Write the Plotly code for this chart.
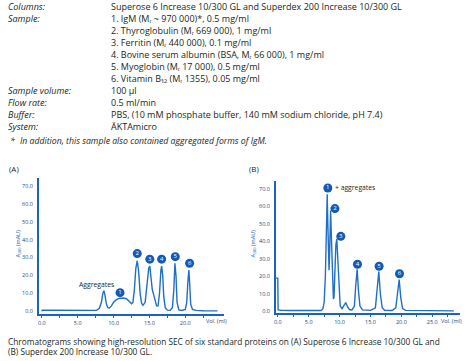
import plotly.graph_objects as go

W, H = 467, 361

# ---------------- data ----------------
a_vol = [0.0, 0.05, 1, 3, 5, 7, 7.6, 8.0, 8.3, 8.5, 8.65, 8.8, 9.0, 9.2, 9.4, 9.7, 10.0, 10.4, 10.8, 11.3,
         11.8, 12.2, 12.5, 12.7, 12.9, 13.1, 13.3, 13.5, 13.7, 13.9, 14.1, 14.4, 14.7, 14.9, 15.05, 15.2,
         15.4, 15.6, 15.8, 16.0, 16.2, 16.4, 16.6, 16.7, 16.85, 17.0, 17.2, 17.5, 17.9, 18.2, 18.4, 18.55,
         18.7, 18.85, 19.1, 19.5, 20.0, 20.2, 20.35, 20.5, 20.6, 20.75, 21.0, 21.5, 22.5, 24.5]
a_abs = [0, 0.6, 0.6, 0.5, 0.4, 0.3, 0.5, 1.5, 5, 10, 11.5, 9, 4, 2, 1.8, 3, 5, 6.5, 7.2, 7.4,
         7.0, 5.5, 4.2, 5, 12, 24, 28.2, 22, 10, 4.5, 3.3, 5, 16, 24, 25.2, 20,
         12, 9, 6, 3, 3, 10, 23, 25.2, 20, 8, 2, 0.6, 0.5, 2, 12, 26.8,
         20, 5, 0.8, 0.4, 1, 5, 16, 23, 16, 4, 1, 0.5, 0.3, 0.2]

b_vol = [-0.3, 0.0, 0.05, 0.5, 2, 4, 6, 7.0, 7.3, 7.5, 7.7, 7.85, 8.0, 8.1, 8.2, 8.3, 8.4, 8.55, 8.7,
         8.85, 9.0, 9.1, 9.25, 9.4, 9.55, 9.7, 9.9, 10.1, 10.4, 10.7, 11.0, 11.3, 11.6, 12.0, 12.4,
         12.6, 12.85, 13.05, 13.3, 13.7, 15.0, 15.8, 16.1, 16.35, 16.6, 16.9, 17.3, 18.5, 19.1, 19.45,
         19.65, 19.9, 20.2, 20.7, 24, 28.5]
b_abs = [19, 19, 0.8, 0.6, 0.4, 0.3, 0.2, 0.4, 1.5, 5, 20, 48, 67, 50, 30, 23.5, 35, 57.7, 40,
         15, 7, 8, 25, 38, 41.5, 30, 10, 3, 1.5, 3, 5, 2.5, 1, 0.8, 3,
         14, 24, 12, 3, 0.8, 0.5, 2, 12, 22.8, 10, 2, 0.6, 0.4, 2, 12,
         18.2, 8, 1.5, 0.5, 0.3, 0.2]

# circled peak numbers
a_lab_x = [10.9, 13.3, 15.05, 16.7, 18.6, 20.6]
a_lab_y = [10.4, 32.2, 29.1, 29.1, 30.5, 26.8]
b_lab_x = [8.1, 9.25, 10.2, 12.9, 16.4, 19.7]
b_lab_y = [70.6, 58.8, 42.9, 26.9, 25.8, 21.5]
peak_ids = ["1", "2", "3", "4", "5", "6"]

a_ticks = [0, 5, 10, 15, 20]
a_minor = [2.5, 7.5, 12.5, 17.5, 22.5]
b_ticks = [0, 5, 10, 15, 20, 25]
b_minor = [2.5, 7.5, 12.5, 17.5, 22.5, 27.5]
y_ticks = [0, 10, 20, 30, 40, 50, 60, 70]

header_labels = ["Columns:", "Sample:", "", "", "", "", "", "Sample volume:", "Flow rate:", "Buffer:", "System:"]
header_values = [
    "Superose 6 Increase 10/300 GL and Superdex 200 Increase 10/300 GL",
    "1. IgM (Mᵣ ~ 970 000)*, 0.5 mg/ml",
    "2. Thyroglobulin (Mᵣ 669 000), 1 mg/ml",
    "3. Ferritin (Mᵣ 440 000), 0.1 mg/ml",
    "4. Bovine serum albumin (BSA, Mᵣ 66 000), 1 mg/ml",
    "5. Myoglobin (Mᵣ 17 000), 0.5 mg/ml",
    "6. Vitamin B₁₂ (Mᵣ 1355), 0.05 mg/ml",
    "100 µl",
    "0.5 ml/min",
    "PBS, (10 mM phosphate buffer, 140 mM sodium chloride, pH 7.4)",
    "ÄKTAmicro",
]
header_y = [7, 19, 31, 43, 55, 67, 79, 91, 103, 115, 127]

# ---------------- styling ----------------
FONT = "Open Sans"
LINE = "#1f6fc6"
AXIS = "#1a63c0"
TICK = "#27467e"
DOT = "#0f5bb5"
TXT = "#231f20"


def px_x(p):
    return p / W


def px_y(p):
    return 1 - p / H


fig = go.Figure()

fig.add_trace(go.Scatter(x=a_vol, y=a_abs, mode="lines", line=dict(color=LINE, width=1.4),
                         xaxis="x", yaxis="y", hoverinfo="skip"))
fig.add_trace(go.Scatter(x=b_vol, y=b_abs, mode="lines", line=dict(color=LINE, width=1.4),
                         xaxis="x2", yaxis="y2", hoverinfo="skip"))
fig.add_trace(go.Scatter(x=a_lab_x, y=a_lab_y, mode="markers+text", text=peak_ids,
                         marker=dict(color=DOT, size=9), textposition="middle center",
                         textfont=dict(color="white", size=6, family=FONT),
                         xaxis="x", yaxis="y", hoverinfo="skip"))
fig.add_trace(go.Scatter(x=b_lab_x, y=b_lab_y, mode="markers+text", text=peak_ids,
                         marker=dict(color=DOT, size=9), textposition="middle center",
                         textfont=dict(color="white", size=6, family=FONT),
                         xaxis="x2", yaxis="y2", hoverinfo="skip"))

axis_common = dict(showgrid=False, zeroline=False, showline=True, linecolor=AXIS, linewidth=1.5,
                   tickfont=dict(size=5.5, color=TICK, family=FONT), tickformat=".1f",
                   fixedrange=True)

fig.update_layout(
    width=W, height=H, margin=dict(l=0, r=0, t=0, b=0),
    paper_bgcolor="white", plot_bgcolor="white", showlegend=False,
    xaxis=dict(domain=[px_x(37), px_x(223)], range=[-0.42, 25.4], anchor="y",
               tickvals=a_ticks, ticks="outside", ticklen=2, tickcolor=AXIS,
               minor=dict(tickvals=a_minor, ticks="outside", ticklen=2, tickcolor=AXIS),
               **axis_common),
    yaxis=dict(domain=[px_y(316), px_y(179)], range=[-1.67, 74.4], anchor="x",
               tickvals=y_ticks, ticks="", ticklabelstandoff=3, **axis_common),
    xaxis2=dict(domain=[px_x(275), px_x(460)], range=[-0.32, 29.5], anchor="y2",
                tickvals=b_ticks, ticks="outside", ticklen=2, tickcolor=AXIS,
                minor=dict(tickvals=b_minor, ticks="outside", ticklen=2, tickcolor=AXIS),
                **axis_common),
    yaxis2=dict(domain=[px_y(315), px_y(182)], range=[-1.14, 74.6], anchor="x2",
                tickvals=y_ticks, ticks="", ticklabelstandoff=3, **axis_common),
)

ann = []
HF = 9.0
for lab, val, yy in zip(header_labels, header_values, header_y):
    if lab:
        ann.append(dict(text="<i>" + lab + "</i>", x=px_x(5), y=px_y(yy), xref="paper", yref="paper",
                        xanchor="left", yanchor="middle", showarrow=False, borderpad=0,
                        font=dict(size=HF, color=TXT, family=FONT)))
    ann.append(dict(text=val, x=px_x(108), y=px_y(yy), xref="paper", yref="paper",
                    xanchor="left", yanchor="middle", showarrow=False, borderpad=0,
                    font=dict(size=HF, color=TXT, family=FONT)))

ann.append(dict(text="<i>*</i>", x=px_x(6), y=px_y(142), xref="paper", yref="paper",
                xanchor="left", yanchor="middle", showarrow=False, font=dict(size=8.7, color=TXT, family=FONT)))
ann.append(dict(text="<i>In addition, this sample also contained aggregated forms of IgM.</i>",
                x=px_x(16), y=px_y(142), xref="paper", yref="paper",
                xanchor="left", yanchor="middle", showarrow=False, font=dict(size=8.7, color=TXT, family=FONT)))
ann.append(dict(text="(A)", x=px_x(5), y=px_y(169), xref="paper", yref="paper",
                xanchor="left", yanchor="middle", showarrow=False, font=dict(size=8, color=TXT, family=FONT)))
ann.append(dict(text="(B)", x=px_x(246), y=px_y(169), xref="paper", yref="paper",
                xanchor="left", yanchor="middle", showarrow=False, font=dict(size=8, color=TXT, family=FONT)))
ann.append(dict(text="Chromatograms showing high-resolution SEC of six standard proteins on (A) Superose 6 Increase 10/300 GL and",
                x=px_x(5), y=px_y(343), xref="paper", yref="paper", align="left", borderpad=0,
                xanchor="left", yanchor="middle", showarrow=False, font=dict(size=8.3, color=TXT, family=FONT)))
ann.append(dict(text="(B) Superdex 200 Increase 10/300 GL.",
                x=px_x(5), y=px_y(353), xref="paper", yref="paper", align="left",
                xanchor="left", yanchor="middle", showarrow=False, font=dict(size=8.3, color=TXT, family=FONT),
                borderpad=0))

# axis titles / labels inside panels
for xx, yy in [(16, 245), (252, 245)]:
    ann.append(dict(text="A<sub>280</sub> (mAU)", x=px_x(xx), y=px_y(yy), xref="paper", yref="paper",
                    xanchor="center", yanchor="middle", textangle=-90, showarrow=False,
                    font=dict(size=5.5, color=AXIS, family=FONT)))
for xx in [215, 451]:
    ann.append(dict(text="Vol. (ml)", x=px_x(xx), y=px_y(323), xref="paper", yref="paper",
                    xanchor="center", yanchor="middle", showarrow=False,
                    font=dict(size=5.5, color=TICK, family=FONT), borderpad=0))

ann.append(dict(text="Aggregates", x=7.6, y=15, xref="x", yref="y", xanchor="center", yanchor="middle",
                showarrow=False, font=dict(size=6.8, color=TXT, family=FONT)))
ann.append(dict(text="+ aggregates", x=9.0, y=70.6, xref="x2", yref="y2", xanchor="left", yanchor="middle",
                showarrow=False, font=dict(size=6.8, color=TXT, family=FONT)))

fig.update_layout(annotations=ann)

fig.write_html("out.html", config={"displayModeBar": False},
               post_script="document.body.style.margin='0';document.body.style.overflow='hidden';")
